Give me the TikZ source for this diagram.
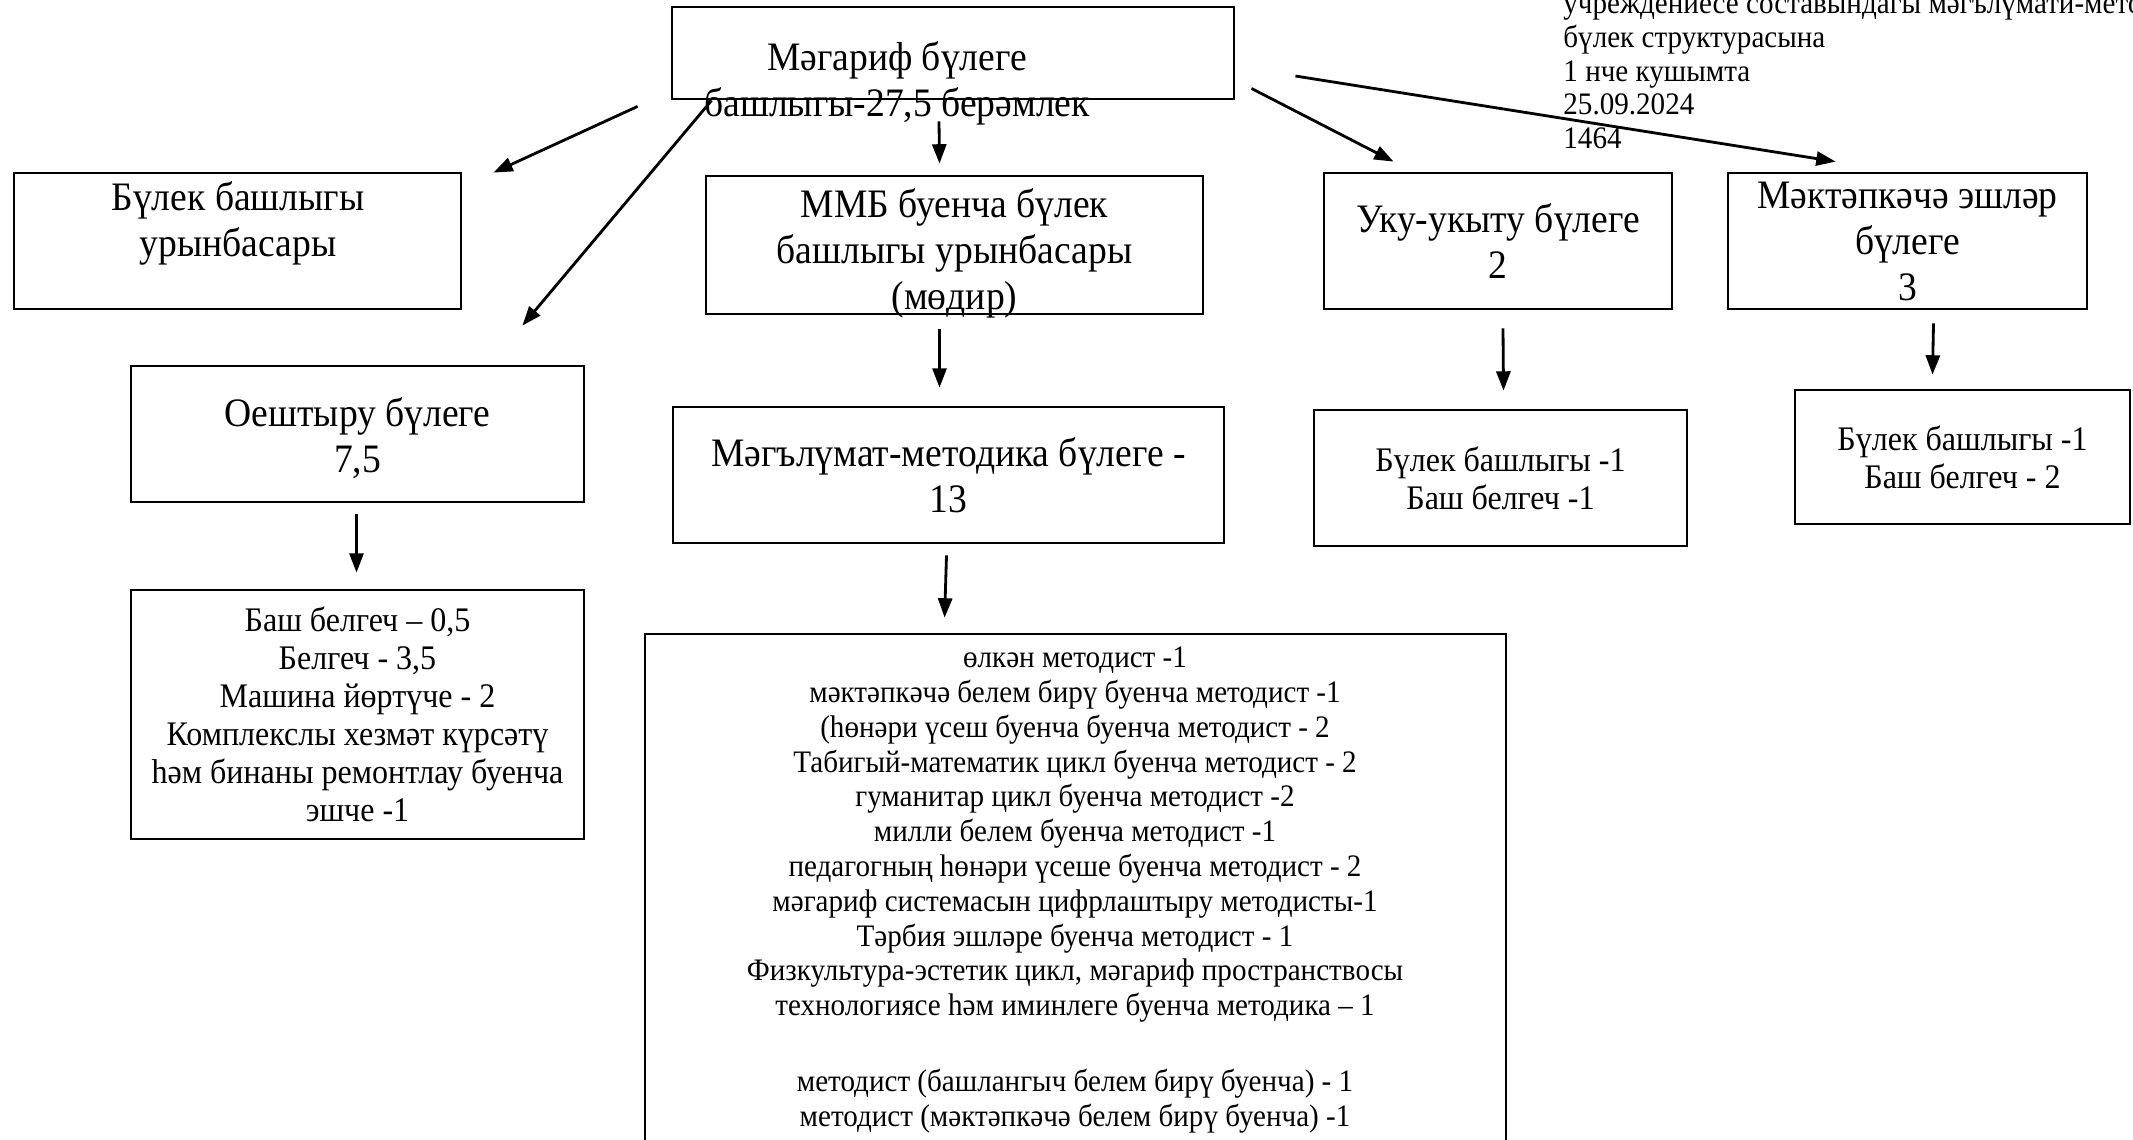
\documentclass[tikz,border=0pt]{standalone}
\usepackage{fontspec}
\setmainfont{Liberation Serif}[FakeStretch=0.93]
\usetikzlibrary{arrows.meta}

\begin{document}
\begin{tikzpicture}[
	box/.style={draw,line width=0.8pt,inner sep=0pt,align=center},
	arr/.style={line width=0.8pt,-{Triangle[length=5.5pt,width=4pt]}},
	bigtext/.style={font=\fontsize{11.5}{13.1}\selectfont},
	midtext/.style={font=\fontsize{9.8}{10.8}\selectfont},
	smalltext/.style={font=\fontsize{8.9}{9.9}\selectfont}]
	\useasboundingbox (0,0) rectangle (21.33,-11.39);
	\node[box,minimum width=5.62cm,minimum height=0.92cm] (head) at (9.53,-0.53) {};
	\node[bigtext,align=center] (headtext) at (8.97,-0.83) {Мәгариф бүлеге\\башлыгы-27,5 берәмлек};
	\node[align=left,anchor=west,font=\fontsize{8.9}{9.6}\selectfont] (note) at (15.51,-0.74)
		{учреждениесе составындагы мәгълүмати-методик\\бүлек структурасына\\1 нче кушымта\\25.09.2024\\1464};
	\node[box,minimum width=4.47cm,minimum height=1.36cm] (zam) at (2.375,-2.41) {};
	\node[bigtext,align=center] (zamtext) at (2.38,-2.23) {Бүлек башлыгы\\урынбасары};
	\node[box,bigtext,minimum width=4.97cm,minimum height=1.36cm] (mmb) at (9.545,-2.45)
		{\raisebox{-0.09cm}[\height][\depth]{\begin{tabular}{@{}c@{}}ММБ буенча бүлек\\башлыгы урынбасары\\(мөдир)\end{tabular}}};
	\node[box,bigtext,minimum width=3.48cm,minimum height=1.36cm] (uku) at (14.98,-2.41) {Уку-укыту бүлеге\\2};
	\node[box,bigtext,minimum width=3.59cm,minimum height=1.36cm] (mekt) at (19.075,-2.41) {Мәктәпкәчә эшләр\\бүлеге\\3};
	\node[box,bigtext,minimum width=4.53cm,minimum height=1.36cm] (oesh) at (3.575,-4.34)
		{\raisebox{-0.06cm}[\height][\depth]{\begin{tabular}{@{}c@{}}Оештыру бүлеге\\7,5\end{tabular}}};
	\node[box,bigtext,minimum width=5.51cm,minimum height=1.36cm] (metod) at (9.485,-4.75) {Мәгълүмат-методика бүлеге -\\13};
	\node[box,midtext,minimum width=3.73cm,minimum height=1.36cm] (ukulist) at (15.005,-4.78) {Бүлек башлыгы -1\\Баш белгеч -1};
	\node[box,midtext,minimum width=3.35cm,minimum height=1.34cm] (mektlist) at (19.625,-4.57) {Бүлек башлыгы -1\\Баш белгеч - 2};
	\node[box,midtext,minimum width=4.53cm,minimum height=2.49cm] (oeshlist) at (3.575,-7.145)
		{Баш белгеч – 0,5\\Белгеч - 3,5\\Машина йөртүче - 2\\Комплекслы хезмәт күрсәтү\\һәм бинаны ремонтлау буенча\\эшче -1};
	\node[box,minimum width=8.61cm,minimum height=5.66cm] (list) at (10.755,-9.17) {};
	\node[smalltext,align=center] (listtext) at (10.75,-8.90)
		{өлкән методист -1\\
		мәктәпкәчә белем бирү буенча методист -1\\
		(һөнәри үсеш буенча буенча методист - 2\\
		Табигый-математик цикл буенча методист - 2\\
		гуманитар цикл буенча методист -2\\
		милли белем буенча методист -1\\
		педагогның һөнәри үсеше буенча методист - 2\\
		мәгариф системасын цифрлаштыру методисты-1\\
		Тәрбия эшләре буенча методист - 1\\
		Физкультура-эстетик цикл, мәгариф пространствосы\\
		технологиясе һәм иминлеге буенча методика – 1\\[11.7pt]
		методист (башлангыч белем бирү буенча) - 1\\
		методист (мәктәпкәчә белем бирү буенча) -1};
	\draw[arr] ([shift={(-0.33,-0.06)}]head.south west) -- ([shift={(0.31,-0.01)}]zam.north east);
	\draw[arr] ([shift={(0.41,0)}]head.south west) -- ([shift={(-0.63,0.39)}]oesh.north east);
	\draw[arr] ([shift={(-0.14,-0.21)}]head.south) -- ([shift={(-0.15,0.11)}]mmb.north);
	\draw[arr] ([shift={(0.16,0.12)}]head.south east) -- ([shift={(0.71,0.10)}]uku.north west);
	\draw[arr] ([shift={(0.60,-0.23)}]head.east) -- ([shift={(1.09,0.10)}]mekt.north west);
	\draw[arr] ([shift={(-0.15,-0.14)}]mmb.south) -- ([shift={(-0.09,0.18)}]metod.north);
	\draw[arr] ([shift={(-0.02,-0.11)}]metod.south) -- ([shift={(3.01,0.15)}]list.north west);
	\draw[arr] ([shift={(0.05,-0.18)}]uku.south) -- ([shift={(0.03,0.18)}]ukulist.north);
	\draw[arr] ([shift={(0.26,-0.13)}]mekt.south) -- ([shift={(-0.30,0.14)}]mektlist.north);
	\draw[arr] ([shift={(-0.01,-0.11)}]oesh.south) -- ([shift={(-0.01,0.16)}]oeshlist.north);
\end{tikzpicture}
\end{document}
